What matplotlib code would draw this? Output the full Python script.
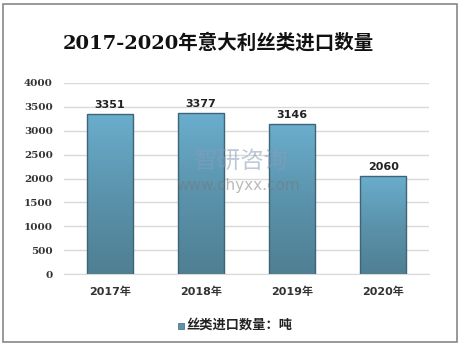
import matplotlib
matplotlib.use("Agg")
import matplotlib.pyplot as plt
import numpy as np
from matplotlib.patches import Rectangle
from matplotlib.colors import LinearSegmentedColormap

categories = ["2017年", "2018年", "2019年", "2020年"]
values = [3351, 3377, 3146, 2060]
yticks = [0, 500, 1000, 1500, 2000, 2500, 3000, 3500, 4000]
title = "2017-2020年意大利丝类进口数量"
legend_label = "丝类进口数量：吨"

plt.rcParams['font.family'] = ['DejaVu Sans', 'Noto Sans CJK SC']

W, H = 462, 348
fig = plt.figure(figsize=(W/100, H/100), dpi=100)
fig.patch.set_facecolor('white')

# outer border
fig.add_artist(Rectangle((3/W, 6/H), 454/W, 338/H, transform=fig.transFigure,
                         fill=False, edgecolor='#888888', linewidth=1.2))

ax = fig.add_axes([64/W, 1-274/H, 365/W, (274-83)/H])
ax.set_xlim(-0.5, 3.5)
ax.set_ylim(0, 4000)
ax.set_yticks(yticks)
ax.set_yticklabels([str(v) for v in yticks], family=['DejaVu Serif'], fontsize=7.5,
                   fontweight='bold', color='#333333')
ax.set_xticks(range(len(categories)))
ax.set_xticklabels(categories, fontsize=8, fontweight='bold', color='#333333',
                   family=['DejaVu Sans', 'Noto Sans CJK SC'])
ax.tick_params(axis='y', length=0, pad=8)
ax.tick_params(axis='x', length=0, pad=9)
ax.grid(axis='y', color='#d9d9d9', linewidth=1)
ax.set_axisbelow(True)
for s in ['top', 'right', 'left']:
    ax.spines[s].set_visible(False)
ax.spines['bottom'].set_color('#d9d9d9')

cmap = LinearSegmentedColormap.from_list('b', ['#4f7f93', '#5b93ac', '#6aaecd'])
bars = ax.bar(range(len(categories)), values, width=0.505, color='none',
              edgecolor='#3e6577', linewidth=1.0, zorder=3)
grad = np.linspace(0, 1, 256).reshape(-1, 1)
for b, v in zip(bars, values):
    x0, w = b.get_x(), b.get_width()
    im = ax.imshow(grad, extent=[x0, x0 + w, 0, v], origin='lower', cmap=cmap,
                   aspect='auto', zorder=2)
    im.set_clip_path(b)
    ax.text(x0 + w/2, v + 80, str(v), ha='center', va='bottom', fontsize=8,
            fontweight='bold', color='#222222')
ax.set_xlim(-0.5, 3.5)
ax.set_ylim(0, 4000)

fig.text(218/W, 1-43/H, title, ha='center', va='center', fontsize=14,
         fontweight='bold', family=['DejaVu Serif', 'Noto Sans CJK SC'], color='#111111')

# watermark
fig.text(240/W, 1-162/H, "智研咨询", ha='center', va='center', fontsize=17,
         color='#8a9cb8', alpha=0.55, family=['Noto Sans CJK SC'], zorder=10)
fig.text(238/W, 1-185/H, "www.chyxx.com", ha='center', va='center', fontsize=11,
         color='#777777', alpha=0.5, zorder=10)

# legend
fig.add_artist(Rectangle((178/W, 1-329/H), 6/W, 6/H, transform=fig.transFigure,
                         facecolor='#5b93ac', edgecolor='#3e6577', linewidth=0.5))
fig.text(186/W, 1-325/H, legend_label, ha='left', va='center', fontsize=9.5,
         fontweight='bold', color='#222222', family=['Noto Sans CJK SC'])

fig.savefig('out.png', dpi=100)
